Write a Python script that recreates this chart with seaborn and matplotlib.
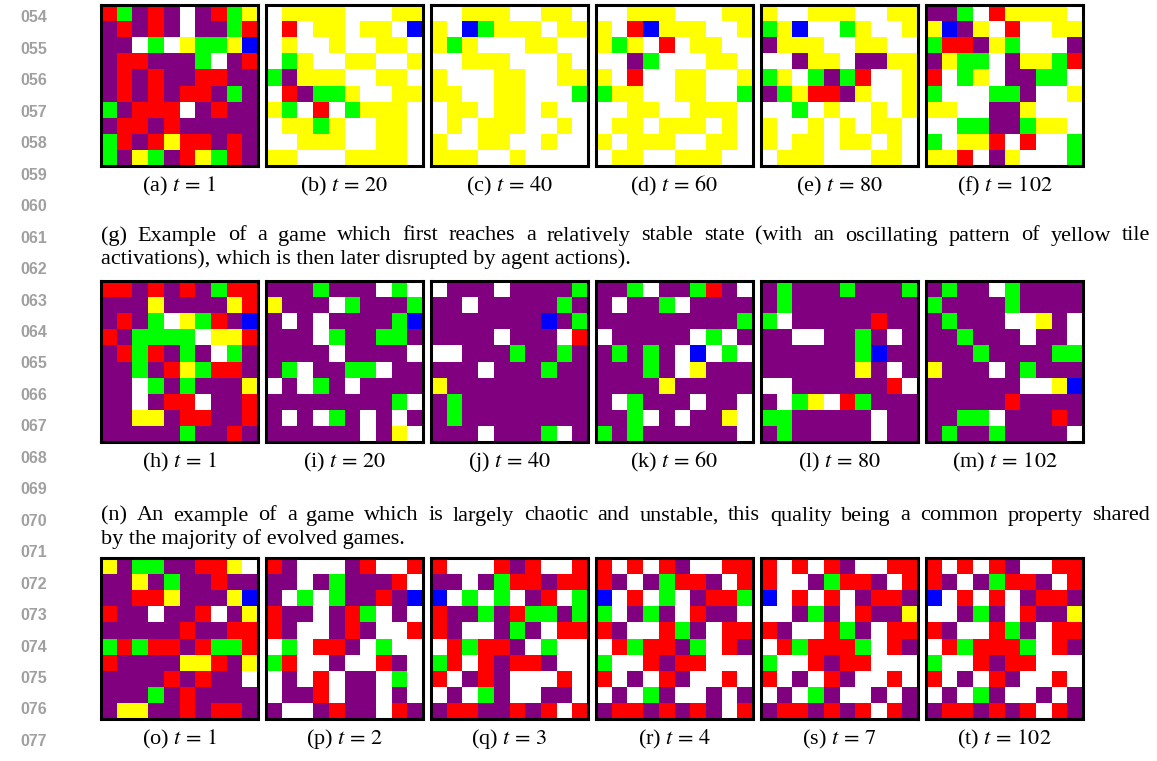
#!/usr/bin/env python3
# -*- coding: utf-8 -*-
"""Evolução de jogos em grade 10x10 — três exemplos, seis instantes cada."""
import numpy as np
import matplotlib
matplotlib.use('Agg')
import matplotlib.pyplot as plt
import seaborn as sns
from matplotlib.colors import ListedColormap

# ============ DADOS ============
# P=roxo, R=vermelho, G=verde, W=branco, Y=amarelo, B=azul
grid_a = ["RGPRPWPRGY", "PRPRPWPPGR", "PPWGWYGGYB", "PRRPPPGWPR", "PRPRPPRRPP",
          "PRPRPRRPGP", "GPRRRWPRPP", "PRRPRPPPPP", "GRPRYRRPRP", "GPYGPRYGRP"]
grid_b = ["WYYYYWWWYY", "WRWYYWYYWB", "WYWWYWWYYW", "WGYWWYYWWY", "GPYYYWWYYW",
          "WRPGGYWWYY", "YGWRWGYYYW", "WYYGYWWYYW", "WWYYYWWYYW", "YYWWWYYYYW"]
grid_c = ["WWYYYWWYYW", "YWBGYYYWYY", "YGYWWWYYWW", "WWYYYWWWYW", "YWWWYYWWYY",
          "YYWWYYWWWG", "WYYWYYWYWW", "WYWYYYWWYW", "YWWYYWWYWW", "YYYWWYWWWW"]
grid_d = ["WWYYYWWWYY", "YWRBYYYWWY", "YGYWRWYYWW", "WWPGWWWYYW", "YWRWWYYWWY",
          "GYYWWYYWWG", "WWYYWWYYYW", "WYYWYYYWYW", "YWYYYWWYYW", "WYYWWYYYWW"]
grid_e = ["YWWYYYWWYY", "GYBWWGYWWY", "PYYYWWYYWW", "WWPYYWPPYY", "GYWGPGRWWY",
          "PGYRRPYWWY", "WWGWYWWYWY", "YWWYWYWYYW", "YWYYWYYWYW", "WYYYWWWYYW"]
grid_f = ["PPGWRYYYYW", "YBPYWRWWYY", "GRRPYGWWWP", "PYGGWPYYGR", "RWGYWPPGGW",
          "GWWWGGPWWY", "YYWWPPYWWW", "WWGGPPGYYW", "GWYYRWRWWG", "YYRWPYWWWG"]

grid_h = ["RRPRPRPGRR", "PPPYPPPPYR", "PRPGWYGRPB", "RPGGGGWYYR", "PRGRPGPWGP",
          "PPGPRYGRRP", "PPWGPGPPPY", "PPWPRRWPPR", "PPYYPRRPPR", "PPPPPGPPRP"]
grid_i = ["PPPGPPPWGW", "YPPPWGPPPG", "PWPWPPPPGB", "PPPWGPPGGP", "PPPPWPPPPW",
          "PGWPPGGWPP", "WPWGPWPPPP", "PPPPPPPPGW", "PWPWGPWPWP", "PPPPPPWPYW"]
grid_j = ["WPPPWPPPPG", "PPWPPPPPGP", "PPPPPPPBPG", "PPPPWPPPWR", "WWPPPGPPGP",
          "PPPWPPPGPP", "YPPPPPPPPP", "PGPPPPPPPP", "PGPPPPPPPP", "PPPWPPPGWP"]
grid_k = ["PPGWPPGRPW", "PWPPGWPPPP", "PPPPPPPPPG", "WPPPPPWGWP", "PGPGPWBWGW",
          "PPPGPWYPPP", "PPPPYPPPPP", "PWGPPPWPPW", "PPGWPWPPYW", "GPGPPPPPPW"]
grid_l = ["PGPPPGPPPG", "PGPPPPPPPP", "GWPPPPPRPP", "PPWWPPGPWP", "PPPPPPGBPP",
          "PPPPPPYPWP", "WWPPPPPPRW", "PWGYWRGPPP", "GGPPPPPWPP", "PGPPPPPWPP"]
grid_m = ["PGPPWGPPPP", "GPPPPGPPPP", "PGPPPWWYPW", "PPGPPPWPPW", "PPPGPPPPGG",
          "YPPPWPGPPP", "PPPPPPWWYB", "PPPPPRPPPP", "PPGGWPPPRP", "PGPPGPPPPW"]

grid_o = ["YPGGPPRRYW", "PPYPGPPRPP", "PPRRYPPPYB", "RPPWPPRWPY", "PPPPPRPPRR",
          "GRGRRPRGGR", "RPPPPYYRPY", "PPPPRPRPPW", "PPPGPRPPPP", "PYYPPRPRRP"]
grid_p = ["RPWWWPRWWR", "PPWPGPPPRW", "PWGWGPPRPB", "RPPWPRGWPW", "RPWWPRPWWR",
          "WGWRRPWGWW", "GRWWPWWRPW", "WPWRWPPWGW", "WPPRWPPWPW", "PWWPRPPWRP"]
grid_q = ["RWWWRPRWWR", "PPWPGRRPRR", "BWGWGWPRWG", "RPPGPRGGPG", "RPWWPGPWRR",
          "WRGRRPWGWW", "GRWRPRRPWW", "RWPRPWWWRW", "WPWGPWWPPW", "PRRPPRPRWR"]
grid_r = ["RWRWRPWWRR", "RPWPGRRPWR", "BWRWGWPRRG", "GWPGPWRPPW", "RPWWRGPWRR",
          "WRGRRPGWRP", "GWWRPRRWWW", "RWPWRPWWRW", "WPWGPWWPWP", "PRRPRPRPWR"]
grid_s = ["RWRWRPWWRR", "RWWPGRRPWR", "BWRWRWPRRP", "WWPGPWRPPY", "RPWWRGPWRR",
          "WRGRRRGWRP", "GWWRPRRWWW", "RWPWRPWWRW", "WPWGPWWPWP", "PRRPRPRWRP"]
grid_t = ["RWRWRPWWRR", "RPWPGRRPWR", "BWRWRWPRRP", "WWPGPWRPPY", "RPWWRGPWRR",
          "WRGRRRGWRP", "GWWRPRRWWW", "RWPWRPWWRW", "WPWGPWWPWP", "PRRPRPRWRP"]

row1_grids = [grid_a, grid_b, grid_c, grid_d, grid_e, grid_f]
row2_grids = [grid_h, grid_i, grid_j, grid_k, grid_l, grid_m]
row3_grids = [grid_o, grid_p, grid_q, grid_r, grid_s, grid_t]

row1_labels = ['a', 'b', 'c', 'd', 'e', 'f']
row2_labels = ['h', 'i', 'j', 'k', 'l', 'm']
row3_labels = ['o', 'p', 'q', 'r', 's', 't']
row1_steps = [1, 20, 40, 60, 80, 102]
row2_steps = [1, 20, 40, 60, 80, 102]
row3_steps = [1, 2, 3, 4, 7, 102]

text_g = ["(g) Example of a game which first reaches a relatively stable state (with an oscillating pattern of yellow tile",
          "activations), which is then later disrupted by agent actions)."]
text_n = ["(n) An example of a game which is largely chaotic and unstable, this quality being a common property shared",
          "by the majority of evolved games."]

line_numbers = [f'{n:03d}' for n in range(54, 78)]

# ============ CONFIGURAÇÃO ============
plt.rcParams.update({
    'font.family': ['Liberation Serif', 'DejaVu Serif'],
    'mathtext.fontset': 'stix',
})

tile_colors = {'P': '#800080', 'R': '#FF0000', 'G': '#00FF00',
               'W': '#FFFFFF', 'Y': '#FFFF00', 'B': '#0000FF'}
codes = list(tile_colors)
cmap = ListedColormap(list(tile_colors.values()))

W, H = 1157, 761
fig = plt.figure(figsize=(W / 100, H / 100), dpi=100)

col_x = [101, 266, 431, 596, 761, 926]
row_y = [5, 281, 558]
gw, gh = 157, 161


def to_matrix(rows):
    return np.array([[codes.index(c) for c in r] for r in rows])


def draw_grid(rows, x, y):
    ax = fig.add_axes([x / W, 1 - (y + gh) / H, gw / W, gh / H])
    sns.heatmap(to_matrix(rows), cmap=cmap, vmin=-0.5, vmax=len(codes) - 0.5,
                cbar=False, xticklabels=False, yticklabels=False, ax=ax)
    for sp in ax.spines.values():
        sp.set_visible(True)
        sp.set_color('black')
        sp.set_linewidth(2.2)
    ax.tick_params(length=0)
    return ax


def justified(line, x0, x1, y, **kw):
    words = line.split()
    renderer = fig.canvas.get_renderer()
    texts = [fig.text(0, 1 - y / H, w, va='center', ha='left', **kw) for w in words]
    widths = [t.get_window_extent(renderer).width for t in texts]
    gap = (x1 - x0 - sum(widths)) / (len(words) - 1)
    x = x0
    for t, w in zip(texts, widths):
        t.set_x(x / W)
        x += w + gap


fs = 16
for grids, labels, steps, y in zip([row1_grids, row2_grids, row3_grids],
                                   [row1_labels, row2_labels, row3_labels],
                                   [row1_steps, row2_steps, row3_steps], row_y):
    for rows, lab, st, x in zip(grids, labels, steps, col_x):
        draw_grid(rows, x, y)
        fig.text((x + gw / 2) / W, 1 - (y + gh + 20) / H, f'({lab}) $t\\,=\\,{st}$',
                 ha='center', va='center', fontsize=fs)

# --- Legendas longas ---
justified(text_g[0], 101, 1150, 236, fontsize=fs)
fig.text(101 / W, 1 - 259 / H, text_g[1], va='center', ha='left', fontsize=fs)
justified(text_n[0], 101, 1150, 516, fontsize=fs)
fig.text(101 / W, 1 - 539 / H, text_n[1], va='center', ha='left', fontsize=fs)

# --- Numeração de linhas ---
for i, ln in enumerate(line_numbers):
    fig.text(34 / W, 1 - (18 + i * 31.45) / H, ln, ha='center', va='center',
             fontsize=11.5, fontweight='bold', color='#a0a0a0',
             family=['Liberation Sans', 'DejaVu Sans'])

plt.savefig('out.png', dpi=100)
plt.close()
print("✓ out.png salvo")
